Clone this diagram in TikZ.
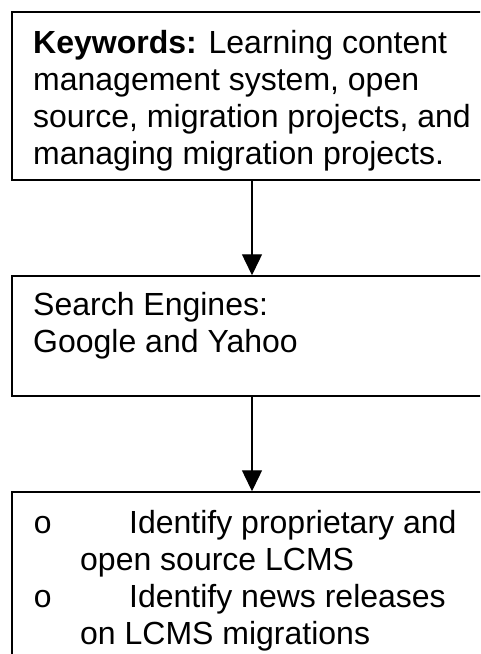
\documentclass[tikz,border=0pt]{standalone}
\usepackage{fontspec}
\setmainfont{Liberation Sans}
\newfontfamily\bulletfont{Liberation Mono}
\usetikzlibrary{arrows.meta}
\tikzset{
  box/.style={draw=black, line width=1.5pt, minimum width=480pt, inner sep=0pt, fill=none},
  txt/.style={anchor=base west, inner sep=0pt, font=\fontsize{32}{37}\selectfont},
  bul/.style={anchor=base west, inner sep=0pt, font=\bulletfont\fontsize{32}{37}\selectfont},
  flow/.style={draw=black, line width=1.4pt, -{Triangle[width=20pt,length=21pt]}}
}
\begin{document}
\begin{tikzpicture}[x=1pt, y=-1pt]
  \useasboundingbox (0,0) rectangle (480,654);
  \clip (0,0) rectangle (480,654);
  \fill[white] (0,0) rectangle (480,654);

  % boxes (right edges and the last bottom edge run past the page)
  \node[box, minimum height=168pt] (kw) at (252,96) {};
  \node[box, minimum height=120pt] (se) at (252,336) {};
  \node[box, minimum height=200pt] (id) at (252,592) {};

  % keywords box text
  \node[txt] (k1) at (33,53) {\textbf{Keywords:} Learning content};
  \node[txt] (k2) at (33,90) {management system, open};
  \node[txt] (k3) at (33,127) {source, migration projects, and};
  \node[txt] (k4) at (33,164) {managing migration projects.};

  % search engines box text
  \node[txt] (s1) at (33,315) {Search Engines:};
  \node[txt] (s2) at (33,352) {Google and Yahoo};

  % tasks box text
  \node[bul] (o1) at (33,533) {o};
  \node[txt] (i1) at (129,533) {Identify proprietary and};
  \node[txt] (i2) at (80,570) {open source LCMS};
  \node[bul] (o2) at (33,607) {o};
  \node[txt] (i3) at (129,607) {Identify news releases};
  \node[txt] (i4) at (80,644) {on LCMS migrations};

  % connectors
  \draw[flow] (kw.south) -- (se.north);
  \draw[flow] (se.south) -- (id.north);
\end{tikzpicture}
\end{document}
